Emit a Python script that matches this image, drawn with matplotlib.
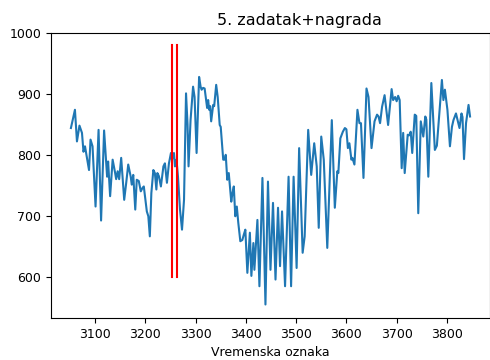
import matplotlib
matplotlib.use("Agg")
import matplotlib.pyplot as plt

# Traced time stamps and values
t = [3052, 3055, 3060, 3064, 3069, 3074, 3077, 3080, 3088, 3091, 3095, 3101, 3107,
     3112, 3118, 3124, 3126, 3130, 3135, 3140, 3142, 3145, 3148, 3152, 3158, 3162,
     3166, 3171, 3173, 3176, 3180, 3183, 3187, 3191, 3194, 3197, 3203, 3206, 3209,
     3212, 3216, 3219, 3222, 3224, 3227, 3231, 3236, 3239, 3243, 3247, 3251, 3253,
     3257, 3259, 3262, 3265, 3269, 3273, 3277, 3281, 3284, 3286, 3290, 3295, 3298,
     3302, 3307, 3310, 3312, 3315, 3318, 3323, 3325, 3327, 3329, 3331, 3335, 3337,
     3341, 3344, 3348, 3350, 3355, 3358, 3360, 3363, 3366, 3371, 3373, 3376, 3379,
     3382, 3385, 3389, 3393, 3396, 3399, 3403, 3408, 3411, 3415, 3417, 3423, 3427,
     3433, 3439, 3444, 3449, 3454, 3459, 3464, 3468, 3472, 3478, 3485, 3490, 3495,
     3501, 3506, 3513, 3517, 3524, 3530, 3536, 3541, 3545, 3550, 3555, 3562, 3571,
     3577, 3582, 3584, 3588, 3593, 3597, 3600, 3603, 3606, 3610, 3612, 3616, 3622,
     3626, 3629, 3634, 3640, 3644, 3650, 3656, 3661, 3664, 3667, 3671, 3676, 3683,
     3690, 3693, 3697, 3700, 3703, 3706, 3710, 3713, 3716, 3722, 3725, 3728, 3731,
     3736, 3739, 3743, 3748, 3753, 3757, 3759, 3763, 3769, 3776, 3780, 3790, 3793,
     3796, 3801, 3806, 3810, 3813, 3818, 3821, 3825, 3829, 3831, 3834, 3838, 3843,
     3846]
v = [844, 855, 874, 822, 848, 836, 805, 814, 775, 825, 814, 715, 841,
     692, 840, 764, 789, 732, 792, 770, 760, 773, 760, 795, 726, 754,
     784, 764, 751, 767, 710, 759, 757, 740, 745, 748, 707, 699, 666,
     737, 775, 770, 743, 770, 765, 748, 781, 786, 754, 786, 803, 792,
     803, 781, 792, 764, 710, 677, 726, 901, 850, 781, 857, 912, 895,
     803, 928, 912, 907, 910, 909, 877, 890, 874, 880, 855, 882, 880,
     915, 895, 849, 846, 792, 792, 800, 759, 770, 723, 735, 748, 699,
     715, 688, 658, 660, 669, 677, 606, 672, 601, 655, 611, 693, 584,
     762, 554, 756, 611, 721, 595, 713, 617, 707, 584, 764, 584, 764,
     614, 811, 639, 666, 841, 767, 819, 781, 680, 830, 792, 647, 857,
     713, 773, 770, 827, 838, 844, 842, 811, 819, 792, 795, 784, 874,
     852, 852, 762, 909, 895, 811, 855, 866, 863, 852, 879, 898, 849,
     908, 890, 895, 888, 897, 890, 778, 836, 770, 833, 832, 838, 803,
     866, 864, 704, 855, 830, 863, 858, 764, 918, 808, 815, 923, 890,
     907, 874, 814, 846, 857, 868, 858, 844, 868, 862, 793, 852, 882,
     863]

# Marked interval
marks = [3253, 3263]
mark_low = 600
mark_high = 981

plt.rcParams['font.family'] = ['DejaVu Sans']
plt.rcParams['font.size'] = 9

fig = plt.figure(figsize=(4.9, 3.6), dpi=100)
ax = fig.add_axes([0.104, 0.117, 0.896, 0.791])
ax.plot(t, v, color='#1f77b4', linewidth=1.5)
for m in marks:
    ax.plot([m, m], [mark_low, mark_high], color='red', linewidth=1.5)

ax.set_ylim(532, 1000)
ax.set_title("5. zadatak+nagrada", fontsize=11.5, x=0.566)
ax.set_xlabel("Vremenska oznaka")
ax.set_xticks([3100, 3200, 3300, 3400, 3500, 3600, 3700, 3800])
ax.set_yticks([600, 700, 800, 900, 1000])
fig.savefig("out.png", dpi=100)
